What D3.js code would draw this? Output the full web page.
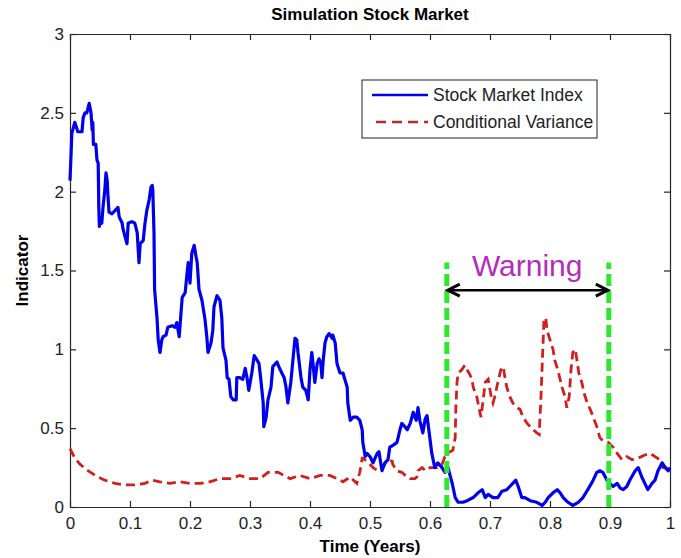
<!DOCTYPE html>
<html>
<head>
<meta charset="utf-8">
<script src="https://cdn.jsdelivr.net/npm/d3@7"></script>
<style>
  html, body { margin: 0; padding: 0; background: #fff; }
  svg text { font-family: "Liberation Sans", Arial, sans-serif; }
</style>
</head>
<body>
<svg id="chart" width="681" height="558"></svg>
<script>
// Time (years) and value pairs for the simulated stock market index
const indexSeries = [
  [0,2.07],[0.002,2.26],[0.003,2.37],[0.008,2.44],[0.013,2.38],[0.02,2.38],[0.022,2.47],[0.025,2.50],
  [0.028,2.50],[0.032,2.56],[0.035,2.50],[0.037,2.39],[0.038,2.44],[0.039,2.30],[0.043,2.30],[0.045,2.20],
  [0.047,2.18],[0.048,1.90],[0.049,1.78],[0.05,1.82],[0.053,1.80],[0.055,1.90],[0.058,2.01],[0.06,2.12],
  [0.062,2.07],[0.063,1.99],[0.065,1.87],[0.07,1.86],[0.075,1.88],[0.08,1.90],[0.082,1.84],[0.087,1.80],
  [0.088,1.77],[0.092,1.71],[0.095,1.67],[0.097,1.80],[0.103,1.81],[0.108,1.80],[0.112,1.74],[0.115,1.55],
  [0.117,1.67],[0.122,1.69],[0.125,1.80],[0.128,1.88],[0.132,1.95],[0.135,2.03],[0.137,2.04],[0.138,2.01],
  [0.14,1.74],[0.141,1.38],[0.145,1.20],[0.147,1.06],[0.15,0.98],[0.153,1.06],[0.155,1.08],[0.16,1.09],
  [0.163,1.14],[0.17,1.15],[0.175,1.14],[0.178,1.17],[0.182,1.08],[0.187,1.33],[0.192,1.36],[0.195,1.48],
  [0.197,1.55],[0.2,1.42],[0.203,1.61],[0.207,1.66],[0.21,1.59],[0.212,1.55],[0.215,1.38],[0.22,1.31],
  [0.225,1.19],[0.228,1.08],[0.23,0.98],[0.235,1.04],[0.238,1.12],[0.24,1.27],[0.245,1.34],[0.25,1.31],
  [0.253,1.20],[0.255,1.01],[0.26,0.93],[0.262,0.82],[0.265,0.81],[0.268,0.70],[0.272,0.68],[0.277,0.68],
  [0.278,0.82],[0.283,0.82],[0.288,0.81],[0.292,0.88],[0.295,0.82],[0.298,0.74],[0.303,0.85],[0.307,0.96],
  [0.312,0.93],[0.315,0.91],[0.318,0.81],[0.322,0.66],[0.323,0.51],[0.327,0.57],[0.33,0.68],[0.335,0.76],
  [0.338,0.89],[0.345,0.92],[0.348,0.89],[0.353,0.85],[0.357,0.82],[0.36,0.76],[0.363,0.66],[0.368,0.79],
  [0.372,0.95],[0.375,1.07],[0.378,1.06],[0.38,0.98],[0.385,0.82],[0.388,0.76],[0.393,0.74],[0.397,0.68],
  [0.4,0.87],[0.403,0.98],[0.405,0.91],[0.408,0.79],[0.412,0.91],[0.415,0.94],[0.418,0.91],[0.42,0.82],
  [0.422,0.93],[0.425,1.04],[0.428,1.08],[0.432,1.10],[0.437,1.07],[0.438,1.09],[0.442,1.04],[0.445,0.91],
  [0.45,0.85],[0.455,0.85],[0.458,0.81],[0.462,0.76],[0.463,0.66],[0.467,0.55],[0.472,0.57],[0.478,0.57],
  [0.483,0.55],[0.487,0.49],[0.488,0.41],[0.492,0.32],[0.495,0.34],[0.5,0.32],[0.505,0.28],[0.512,0.34],
  [0.515,0.35],[0.517,0.30],[0.52,0.23],[0.525,0.28],[0.53,0.30],[0.533,0.38],[0.538,0.39],[0.545,0.41],
  [0.55,0.49],[0.553,0.53],[0.558,0.51],[0.562,0.49],[0.567,0.53],[0.572,0.60],[0.577,0.55],[0.58,0.63],
  [0.583,0.55],[0.588,0.47],[0.592,0.56],[0.595,0.58],[0.598,0.49],[0.603,0.34],[0.608,0.25],[0.613,0.28],
  [0.62,0.25],[0.625,0.22],[0.63,0.25],[0.637,0.15],[0.642,0.06],[0.647,0.03],[0.655,0.03],[0.662,0.04],
  [0.672,0.06],[0.68,0.09],[0.687,0.11],[0.692,0.06],[0.697,0.08],[0.705,0.06],[0.713,0.06],[0.72,0.10],
  [0.728,0.11],[0.733,0.13],[0.738,0.15],[0.743,0.17],[0.747,0.13],[0.753,0.06],[0.758,0.06],[0.767,0.04],
  [0.778,0.03],[0.787,0.01],[0.792,0.03],[0.797,0.06],[0.805,0.09],[0.812,0.11],[0.817,0.09],[0.822,0.06],
  [0.83,0.03],[0.838,0.01],[0.847,0.03],[0.855,0.06],[0.863,0.11],[0.872,0.17],[0.878,0.22],[0.883,0.23],
  [0.888,0.22],[0.895,0.17],[0.9,0.15],[0.905,0.13],[0.912,0.15],[0.917,0.12],[0.922,0.11],[0.928,0.13],
  [0.933,0.17],[0.942,0.23],[0.947,0.25],[0.953,0.19],[0.958,0.15],[0.963,0.11],[0.97,0.15],[0.975,0.17],
  [0.98,0.23],[0.987,0.28],[0.992,0.25],[0.997,0.23],[1.0,0.25]
];

// Time (years) and value pairs for the conditional variance
const varianceSeries = [
  [0,0.37],[0.008,0.31],[0.017,0.27],[0.03,0.23],[0.042,0.20],[0.058,0.17],[0.075,0.15],[0.092,0.14],
  [0.108,0.14],[0.125,0.15],[0.137,0.17],[0.15,0.16],[0.167,0.15],[0.183,0.16],[0.2,0.15],[0.217,0.15],
  [0.233,0.16],[0.25,0.18],[0.267,0.18],[0.283,0.20],[0.3,0.18],[0.317,0.18],[0.33,0.22],[0.347,0.22],
  [0.367,0.18],[0.383,0.20],[0.4,0.18],[0.417,0.20],[0.433,0.20],[0.445,0.18],[0.455,0.16],[0.467,0.19],
  [0.478,0.15],[0.483,0.22],[0.487,0.31],[0.488,0.31],[0.495,0.29],[0.5,0.27],[0.505,0.25],[0.513,0.23],
  [0.52,0.25],[0.525,0.28],[0.53,0.30],[0.537,0.29],[0.538,0.27],[0.545,0.23],[0.553,0.22],[0.562,0.19],
  [0.567,0.18],[0.575,0.18],[0.578,0.19],[0.58,0.23],[0.587,0.25],[0.592,0.23],[0.6,0.25],[0.612,0.25],
  [0.62,0.27],[0.625,0.32],[0.633,0.35],[0.638,0.36],[0.642,0.44],[0.643,0.62],[0.645,0.79],[0.647,0.85],
  [0.653,0.87],[0.658,0.90],[0.662,0.87],[0.665,0.85],[0.67,0.81],[0.672,0.76],[0.678,0.70],[0.682,0.62],
  [0.685,0.57],[0.688,0.66],[0.692,0.79],[0.697,0.81],[0.702,0.70],[0.705,0.66],[0.708,0.70],[0.713,0.79],
  [0.718,0.87],[0.722,0.89],[0.725,0.82],[0.728,0.76],[0.733,0.70],[0.738,0.66],[0.745,0.63],[0.75,0.62],
  [0.755,0.57],[0.762,0.53],[0.767,0.51],[0.772,0.49],[0.778,0.47],[0.782,0.46],[0.785,0.70],[0.788,1.00],
  [0.79,1.19],[0.793,1.20],[0.795,1.12],[0.8,1.06],[0.805,1.00],[0.808,0.93],[0.813,0.87],[0.82,0.76],
  [0.825,0.70],[0.828,0.63],[0.832,0.70],[0.835,0.87],[0.838,0.98],[0.842,1.00],[0.845,0.93],[0.848,0.85],
  [0.853,0.79],[0.857,0.72],[0.862,0.66],[0.867,0.62],[0.872,0.57],[0.878,0.51],[0.883,0.44],[0.888,0.42],
  [0.897,0.41],[0.905,0.38],[0.912,0.34],[0.92,0.30],[0.928,0.32],[0.937,0.30],[0.947,0.31],[0.958,0.33],
  [0.967,0.34],[0.975,0.32],[0.983,0.30],[0.988,0.25],[0.997,0.25],[1.0,0.25]
];

const xTicks = [0, 0.1, 0.2, 0.3, 0.4, 0.5, 0.6, 0.7, 0.8, 0.9, 1];
const xTickLabels = ["0", "0.1", "0.2", "0.3", "0.4", "0.5", "0.6", "0.7", "0.8", "0.9", "1"];
const yTicks = [0, 0.5, 1, 1.5, 2, 2.5, 3];
const yTickLabels = ["0", "0.5", "1", "1.5", "2", "2.5", "3"];

const seriesNames = ["Stock Market Index", "Conditional Variance"];
// Warning window bounds (years) and the level of its marker arrow
const warningWindow = [0.628, 0.898];
const warningTop = 1.55;
const warningArrowLevel = 1.375;
const warningLabel = "Warning";
const warningLabelPos = [0.762, 1.465];

const W = 681, H = 558;
const margin = { top: 34, right: 11, bottom: 51, left: 70 };

const svg = d3.select("#chart");
const x = d3.scaleLinear().domain([0, 1]).range([margin.left, W - margin.right]);
const y = d3.scaleLinear().domain([0, 3]).range([H - margin.bottom, margin.top]);

// White plot area
svg.append("rect")
  .attr("x", margin.left).attr("y", margin.top)
  .attr("width", x(1) - x(0)).attr("height", y(0) - y(3))
  .attr("fill", "#fff");

const frameColor = "#262626";
function styleAxis(g) {
  g.selectAll("path.domain").attr("stroke", frameColor).attr("stroke-width", 1.2);
  g.selectAll(".tick line").attr("stroke", frameColor).attr("stroke-width", 1.2);
  g.selectAll(".tick text").attr("fill", "#222").style("font-size", "17px")
    .style("font-family", "'Liberation Sans', Arial, sans-serif");
}

// Inward ticks on all four sides
svg.append("g")
  .attr("transform", `translate(0,${y(0)})`)
  .call(d3.axisBottom(x).tickValues(xTicks).tickFormat((d, i) => xTickLabels[i])
    .tickSizeInner(-6).tickSizeOuter(0).tickPadding(10))
  .call(styleAxis);
svg.append("g")
  .attr("transform", `translate(0,${y(3)})`)
  .call(d3.axisTop(x).tickValues(xTicks).tickFormat("").tickSizeInner(-6).tickSizeOuter(0))
  .call(styleAxis);
svg.append("g")
  .attr("transform", `translate(${x(0)},0)`)
  .call(d3.axisLeft(y).tickValues(yTicks).tickFormat((d, i) => yTickLabels[i])
    .tickSizeInner(-6).tickSizeOuter(0).tickPadding(6))
  .call(styleAxis);
svg.append("g")
  .attr("transform", `translate(${x(1)},0)`)
  .call(d3.axisRight(y).tickValues(yTicks).tickFormat("").tickSizeInner(-6).tickSizeOuter(0))
  .call(styleAxis);

const line = d3.line().x(d => x(d[0])).y(d => y(d[1]));

// Conditional variance (dashed red)
svg.append("path")
  .datum(varianceSeries)
  .attr("d", line)
  .attr("fill", "none")
  .attr("stroke", "#d01f1f")
  .attr("stroke-width", 2.8)
  .attr("stroke-dasharray", "9,5");

// Stock market index (solid blue)
svg.append("path")
  .datum(indexSeries)
  .attr("d", line)
  .attr("fill", "none")
  .attr("stroke", "#0000ec")
  .attr("stroke-width", 3.2)
  .attr("stroke-linejoin", "round");

// Warning window boundaries
svg.selectAll("line.warn")
  .data(warningWindow)
  .join("line")
  .attr("class", "warn")
  .attr("x1", d => x(d)).attr("x2", d => x(d))
  .attr("y1", y(0)).attr("y2", y(warningTop))
  .attr("stroke", "#2ee82e")
  .attr("stroke-width", 5)
  .attr("stroke-dasharray", "12,5");

// Double-headed arrow spanning the warning window
const ay = y(warningArrowLevel);
const ax0 = x(warningWindow[0]), ax1 = x(warningWindow[1]);
svg.append("line")
  .attr("x1", ax0).attr("x2", ax1).attr("y1", ay).attr("y2", ay)
  .attr("stroke", "#000").attr("stroke-width", 2.5);
svg.append("path")
  .attr("d", `M${ax0 + 13},${ay - 6} L${ax0 + 1},${ay} L${ax0 + 13},${ay + 6}`)
  .attr("fill", "none").attr("stroke", "#000").attr("stroke-width", 3);
svg.append("path")
  .attr("d", `M${ax1 - 13},${ay - 6} L${ax1 - 1},${ay} L${ax1 - 13},${ay + 6}`)
  .attr("fill", "none").attr("stroke", "#000").attr("stroke-width", 3);

svg.append("text")
  .attr("x", x(warningLabelPos[0])).attr("y", y(warningLabelPos[1]))
  .attr("text-anchor", "middle")
  .attr("fill", "#b52cba")
  .style("font-size", "30px")
  .text(warningLabel);

// Legend
const lg = svg.append("g").attr("transform", "translate(362,80)");
lg.append("rect").attr("width", 235).attr("height", 58)
  .attr("fill", "#fff").attr("stroke", "#222").attr("stroke-width", 1);
lg.append("line").attr("x1", 10).attr("x2", 66).attr("y1", 15).attr("y2", 15)
  .attr("stroke", "#0000ec").attr("stroke-width", 2.5);
lg.append("line").attr("x1", 14).attr("x2", 66).attr("y1", 42).attr("y2", 42)
  .attr("stroke", "#b52a2a").attr("stroke-width", 2.5).attr("stroke-dasharray", "10,6");
lg.selectAll("text.item")
  .data(seriesNames)
  .join("text")
  .attr("class", "item")
  .attr("x", 71).attr("y", (d, i) => 21 + i * 27)
  .attr("fill", "#222")
  .style("font-size", "17.5px")
  .text(d => d);

// Title and axis titles
svg.append("text")
  .attr("x", (x(0) + x(1)) / 2).attr("y", 20)
  .attr("text-anchor", "middle")
  .style("font-size", "17px").style("font-weight", "bold")
  .text("Simulation Stock Market");
svg.append("text")
  .attr("x", (x(0) + x(1)) / 2).attr("y", 552)
  .attr("text-anchor", "middle")
  .style("font-size", "17px").style("font-weight", "bold")
  .text("Time (Years)");
svg.append("text")
  .attr("transform", `translate(28,${(y(0) + y(3)) / 2}) rotate(-90)`)
  .attr("text-anchor", "middle")
  .style("font-size", "17px").style("font-weight", "bold")
  .text("Indicator");
</script>
</body>
</html>
